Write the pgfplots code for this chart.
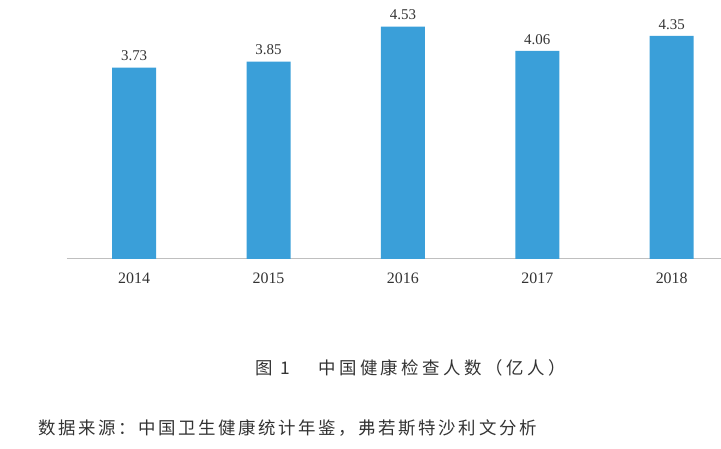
\documentclass[border=0pt]{standalone}
\usepackage{fontspec}
\setmainfont{Liberation Serif}
\newfontfamily\cjk[LetterSpace=20]{Noto Sans CJK SC}
\newfontfamily\cjksrc[LetterSpace=15]{Noto Sans CJK SC}
\usepackage{pgfplots}
\pgfplotsset{compat=1.18}

\definecolor{barblue}{HTML}{3A9FD9}
\definecolor{axisgray}{HTML}{BFBFBF}
\definecolor{txt}{HTML}{333333}

\begin{document}
\begin{tikzpicture}
\begin{axis}[
  scale only axis,
  width=654bp, height=259bp,
  xmin=-0.5, xmax=4.364,
  ymin=0, ymax=5.05,
  ybar, bar width=44bp,
  bar shift=0pt,
  clip=false,
  axis x line*=bottom,
  axis y line=none,
  x axis line style={draw=axisgray, line width=0.8pt, -},
  xtick={0,1,2,3,4},
  xticklabels={2014,2015,2016,2017,2018},
  major tick length=0pt,
  ytick=\empty,
  xticklabel style={font=\fontsize{16}{18}\selectfont, text=txt, yshift=-11bp},
  nodes near coords,
  nodes near coords style={font=\fontsize{15}{17}\selectfont, text=txt, yshift=3bp},
  every node near coord/.append style={/pgf/number format/.cd, fixed, fixed zerofill, precision=2, assume math mode=true},
]
\addplot[draw=none, fill=barblue] coordinates {
  (0,3.73) (1,3.85) (2,4.53) (3,4.06) (4,4.35)
};
\path[use as bounding box] (rel axis cs:-0.1024,-0.7336) rectangle (rel axis cs:1,1);
\node[anchor=center, text=txt] at (rel axis cs:0.526,-0.421)
  {\cjk\fontsize{17.5}{20}\selectfont 图 1\hspace{1.6em}中国健康检查人数（亿人）};
\node[anchor=west, text=txt, inner sep=0pt] at (rel axis cs:-0.0443,-0.653)
  {\cjksrc\fontsize{17.5}{20}\selectfont 数据来源：中国卫生健康统计年鉴，弗若斯特沙利文分析};
\end{axis}
\end{tikzpicture}
\end{document}
